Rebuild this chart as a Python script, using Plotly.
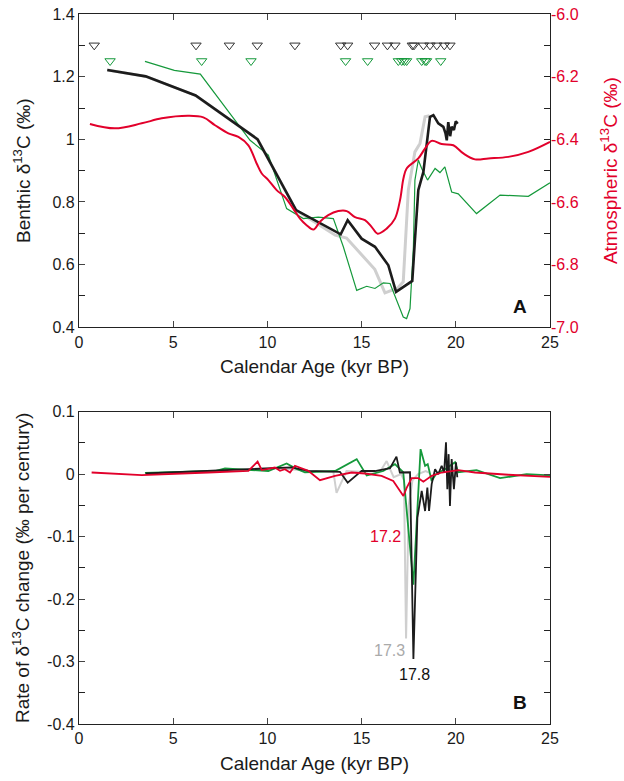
import plotly.graph_objects as go

# ---------------- Panel A data ----------------
black_age = [1.5, 3.54, 6.19, 9.48, 11.52, 13.89, 14.26, 15.0, 15.71, 16.42, 16.83, 17.69, 17.83, 18.01, 18.28,
             18.63, 18.81, 19.07, 19.34, 19.45, 19.52, 19.6, 19.7, 19.78, 19.9, 20.0, 20.1]
black_d13c = [1.221, 1.201, 1.14, 1.0, 0.774, 0.697, 0.742, 0.683, 0.657, 0.598, 0.513, 0.548, 0.678, 0.838, 0.896,
              1.072, 1.077, 1.051, 1.04, 1.02, 0.997, 1.055, 1.01, 1.04, 1.03, 1.058, 1.05]

gray_age = [1.5, 3.54, 6.19, 9.48, 11.52, 13.6, 14.2, 15.7, 16.24, 16.9, 17.21, 17.39, 17.48, 17.83, 18.1, 18.37, 18.6]
gray_d13c = [1.221, 1.201, 1.14, 1.0, 0.774, 0.694, 0.685, 0.585, 0.51, 0.525, 0.545, 0.72, 0.838, 0.96, 0.987, 1.072, 1.075]

green_age = [3.5, 5.06, 6.44, 8.64, 9.08, 10.05, 11.02, 11.91, 12.7, 13.5, 14.03, 14.74, 15.27, 15.71, 16.15, 16.51,
             17.21, 17.39, 17.57, 17.75, 17.83, 18.01, 18.19, 18.5, 18.9, 19.16, 19.42, 19.78, 20.13, 21.1, 22.35,
             23.85, 25.0]
green_d13c = [1.249, 1.22, 1.208, 1.035, 0.997, 0.95, 0.779, 0.747, 0.752, 0.747, 0.657, 0.518, 0.531, 0.524, 0.542,
              0.54, 0.433, 0.428, 0.46, 0.657, 0.87, 0.934, 0.907, 0.87, 0.907, 0.894, 0.912, 0.832, 0.826, 0.763,
              0.822, 0.818, 0.861]

atm_age = [0.58, 1.91, 3.33, 4.39, 5.8, 6.6, 7.22, 7.93, 8.46, 8.99, 9.43, 9.7, 10.05, 10.49, 10.93, 11.37, 11.73,
           12.08, 12.44, 12.79, 13.23, 13.76, 14.21, 14.65, 15.18, 15.54, 15.85, 16.33, 16.77, 17.04, 17.22, 17.39,
           18.01, 18.37, 18.72, 19.25, 19.87, 20.4, 21.02, 21.73, 22.79, 23.85, 25.0]
atm_d13c = [-6.351, -6.365, -6.349, -6.333, -6.325, -6.33, -6.355, -6.381, -6.392, -6.419, -6.477, -6.509, -6.53,
            -6.562, -6.584, -6.621, -6.653, -6.674, -6.688, -6.663, -6.642, -6.629, -6.629, -6.648, -6.658, -6.68,
            -6.701, -6.685, -6.653, -6.594, -6.525, -6.493, -6.461, -6.429, -6.405, -6.415, -6.419, -6.445, -6.464,
            -6.461, -6.456, -6.44, -6.408]

black_dates = [0.81, 6.21, 7.98, 9.46, 11.46, 13.89, 14.26, 15.69, 16.37, 16.77, 17.69, 17.78, 18.28, 18.63, 18.99,
               19.39, 19.69]
green_dates = [1.65, 6.51, 9.13, 14.15, 15.32, 16.95, 17.13, 17.27, 17.39, 18.19, 18.37, 18.45, 19.2]
black_date_level = 1.3
green_date_level = 1.25

# ---------------- Panel B data ----------------
rate_black_age = [3.54, 10.4, 11.29, 12.17, 13.85, 14.26, 15.0, 15.71, 16.51, 16.85, 17.03, 17.57, 17.75, 17.96,
                  18.19, 18.37, 18.49, 18.58, 18.72, 18.9, 19.07, 19.25, 19.38, 19.48, 19.55, 19.62, 19.69, 19.78,
                  19.9, 20.01, 20.08]
rate_black = [0.001, 0.0097, 0.0107, 0.0053, 0.0037, -0.0135, 0.0053, 0.005, 0.0097, 0.028, 0.0026, 0.003, -0.296,
              -0.07, -0.027, -0.059, -0.0215, -0.059, -0.016, 0.008, 0.0, 0.0134, 0.0026, 0.051, -0.024, 0.032,
              -0.051, 0.024, -0.024, 0.019, -0.005]

rate_gray_age = [3.54, 10.4, 12.17, 13.5, 13.67, 14.2, 15.0, 16.0, 16.33, 16.7, 17.1, 17.25, 17.36, 17.5, 17.7,
                 18.0, 18.4, 18.6]
rate_gray = [0.001, 0.0097, 0.0053, 0.004, -0.03, 0.005, 0.004, 0.005, 0.021, -0.005, 0.0, -0.01, -0.263, -0.05,
             -0.01, 0.0, 0.005, 0.002]

rate_green_age = [3.5, 7.22, 7.75, 10.05, 11.02, 11.46, 11.99, 13.59, 14.74, 15.27, 16.15, 16.77, 17.21, 17.75,
                  18.13, 18.37, 18.51, 18.72, 18.95, 19.43, 19.96, 20.13, 21.1, 22.35, 23.76, 25.0]
rate_green = [0.002, 0.005, 0.009, 0.005, 0.017, 0.0097, 0.003, 0.005, 0.024, -0.002, 0.005, 0.016, 0.003, -0.177,
              0.04, 0.0134, 0.016, -0.011, 0.0, 0.008, 0.019, 0.003, 0.0065, -0.0065, 0.0, -0.002]

rate_atm_age = [0.67, 3.33, 6.86, 8.99, 9.48, 9.7, 10.4, 10.67, 10.93, 11.2, 11.46, 12.17, 12.79, 13.59, 14.47,
                15.18, 16.06, 16.68, 17.04, 17.22, 17.39, 17.66, 18.01, 18.28, 18.72, 19.25, 20.13, 21.02, 22.79, 25.0]
rate_atm = [0.0026, -0.0016, 0.0026, 0.0053, 0.02, 0.0065, 0.0106, 0.0053, 0.008, 0.0026, 0.0134, 0.0053, -0.0097,
            -0.0027, 0.0026, 0.001, -0.0027, -0.011, -0.027, -0.035, -0.022, -0.0065, -0.0065, -0.012, -0.0027,
            0.0026, 0.0065, 0.0026, -0.001, -0.0044]

# ---------------- Styling ----------------
BLACK = "#1c1c1c"
GRAY = "#cfcfcf"
GREEN = "#15993b"
RED = "#e2002b"
FONT = "Liberation Sans, Arial, sans-serif"

fig = go.Figure()

# Panel A
fig.add_trace(go.Scatter(x=gray_age, y=gray_d13c, mode="lines", line=dict(color=GRAY, width=3),
                         xaxis="x", yaxis="y", showlegend=False))
fig.add_trace(go.Scatter(x=green_age, y=green_d13c, mode="lines", line=dict(color=GREEN, width=1.2),
                         xaxis="x", yaxis="y", showlegend=False))
fig.add_trace(go.Scatter(x=black_age, y=black_d13c, mode="lines", line=dict(color=BLACK, width=2.6),
                         xaxis="x", yaxis="y", showlegend=False))
fig.add_trace(go.Scatter(x=black_dates, y=[black_date_level] * len(black_dates), mode="markers",
                         marker=dict(symbol="triangle-down-open", size=9, color="#333333", line=dict(width=1)),
                         xaxis="x", yaxis="y", showlegend=False))
fig.add_trace(go.Scatter(x=green_dates, y=[green_date_level] * len(green_dates), mode="markers",
                         marker=dict(symbol="triangle-down-open", size=9, color=GREEN, line=dict(width=1)),
                         xaxis="x", yaxis="y", showlegend=False))
fig.add_trace(go.Scatter(x=atm_age, y=atm_d13c, mode="lines", line=dict(color=RED, width=2, shape="spline"),
                         xaxis="x", yaxis="y2", showlegend=False))

# Panel B
fig.add_trace(go.Scatter(x=rate_gray_age, y=rate_gray, mode="lines", line=dict(color=GRAY, width=2),
                         xaxis="x2", yaxis="y3", showlegend=False))
fig.add_trace(go.Scatter(x=rate_green_age, y=rate_green, mode="lines", line=dict(color=GREEN, width=1.8),
                         xaxis="x2", yaxis="y3", showlegend=False))
fig.add_trace(go.Scatter(x=rate_black_age, y=rate_black, mode="lines", line=dict(color=BLACK, width=1.8),
                         xaxis="x2", yaxis="y3", showlegend=False))
fig.add_trace(go.Scatter(x=rate_atm_age, y=rate_atm, mode="lines", line=dict(color=RED, width=1.8),
                         xaxis="x2", yaxis="y3", showlegend=False))

tickfont = dict(family=FONT, size=16, color="#1a1a1a")
titlefont = dict(family=FONT, size=19, color="#1a1a1a")

xcommon = dict(range=[0, 25], tickvals=[0, 5, 10, 15, 20, 25], ticks="inside", ticklen=6, showline=True,
               linecolor="#222", linewidth=1.2, mirror="ticks", showgrid=False, zeroline=False,
               tickfont=tickfont, title=dict(text="Calendar Age (kyr BP)", font=titlefont, standoff=10))

fig.update_layout(
    width=624, height=781,
    margin=dict(l=79, r=74, t=14, b=57, autoexpand=False),
    plot_bgcolor="white", paper_bgcolor="white",
    font=dict(family=FONT),
    xaxis=dict(domain=[0, 1], anchor="y", **xcommon),
    yaxis=dict(domain=[0.5587, 1], range=[0.4, 1.4], tickvals=[0.4, 0.6, 0.8, 1.0, 1.2, 1.4],
               ticktext=["0.4", "0.6", "0.8", "1", "1.2", "1.4"],
               ticks="inside", ticklen=6, showline=True, linecolor="#222", linewidth=1.2, mirror=True,
               minor=dict(dtick=0.1, tick0=0.4, ticks="inside", ticklen=6, tickcolor="#222"),
               showgrid=False, zeroline=False, tickfont=tickfont, anchor="x",
               title=dict(text="Benthic δ<sup>13</sup>C (‰)", font=titlefont, standoff=16)),
    yaxis2=dict(overlaying="y", side="right", anchor="x", range=[-7.0, -6.0],
                tickvals=[-7.0, -6.8, -6.6, -6.4, -6.2, -6.0],
                ticktext=["-7.0", "-6.8", "-6.6", "-6.4", "-6.2", "-6.0"],
                ticks="inside", ticklen=6, tickcolor="#222",
                minor=dict(dtick=0.1, tick0=-7.0, ticks="inside", ticklen=6, tickcolor="#222"),
                showgrid=False, zeroline=False, showline=False,
                tickfont=dict(family=FONT, size=16, color=RED),
                title=dict(text="Atmospheric δ<sup>13</sup>C (‰)", font=dict(family=FONT, size=19, color=RED),
                           standoff=26)),
    xaxis2=dict(domain=[0, 1], anchor="y3", **xcommon),
    yaxis3=dict(domain=[0, 0.4399], anchor="x2", range=[-0.4, 0.1],
                tickvals=[-0.4, -0.3, -0.2, -0.1, 0, 0.1],
                ticktext=["-0.4", "-0.3", "-0.2", "-0.1", "0", "0.1"],
                ticks="inside", ticklen=6, showline=True, linecolor="#222", linewidth=1.2, mirror="ticks",
                minor=dict(dtick=0.05, tick0=-0.4, ticks="inside", ticklen=6, tickcolor="#222"),
                showgrid=False, zeroline=False, tickfont=tickfont,
                title=dict(text="Rate of δ<sup>13</sup>C change (‰ per century)", font=titlefont, standoff=12)),
    annotations=[
        dict(x=23.4, y=0.467, xref="x", yref="y", text="<b>A</b>", showarrow=False,
             font=dict(family=FONT, size=19, color="#111")),
        dict(x=23.4, y=-0.366, xref="x2", yref="y3", text="<b>B</b>", showarrow=False,
             font=dict(family=FONT, size=19, color="#111")),
        dict(x=16.25, y=-0.1, xref="x2", yref="y3", text="17.2", showarrow=False,
             font=dict(family=FONT, size=16, color=RED)),
        dict(x=16.5, y=-0.282, xref="x2", yref="y3", text="17.3", showarrow=False,
             font=dict(family=FONT, size=16, color="#aaaaaa")),
        dict(x=17.83, y=-0.32, xref="x2", yref="y3", text="17.8", showarrow=False,
             font=dict(family=FONT, size=16, color="#111")),
    ],
)

fig.write_html("out.html")
